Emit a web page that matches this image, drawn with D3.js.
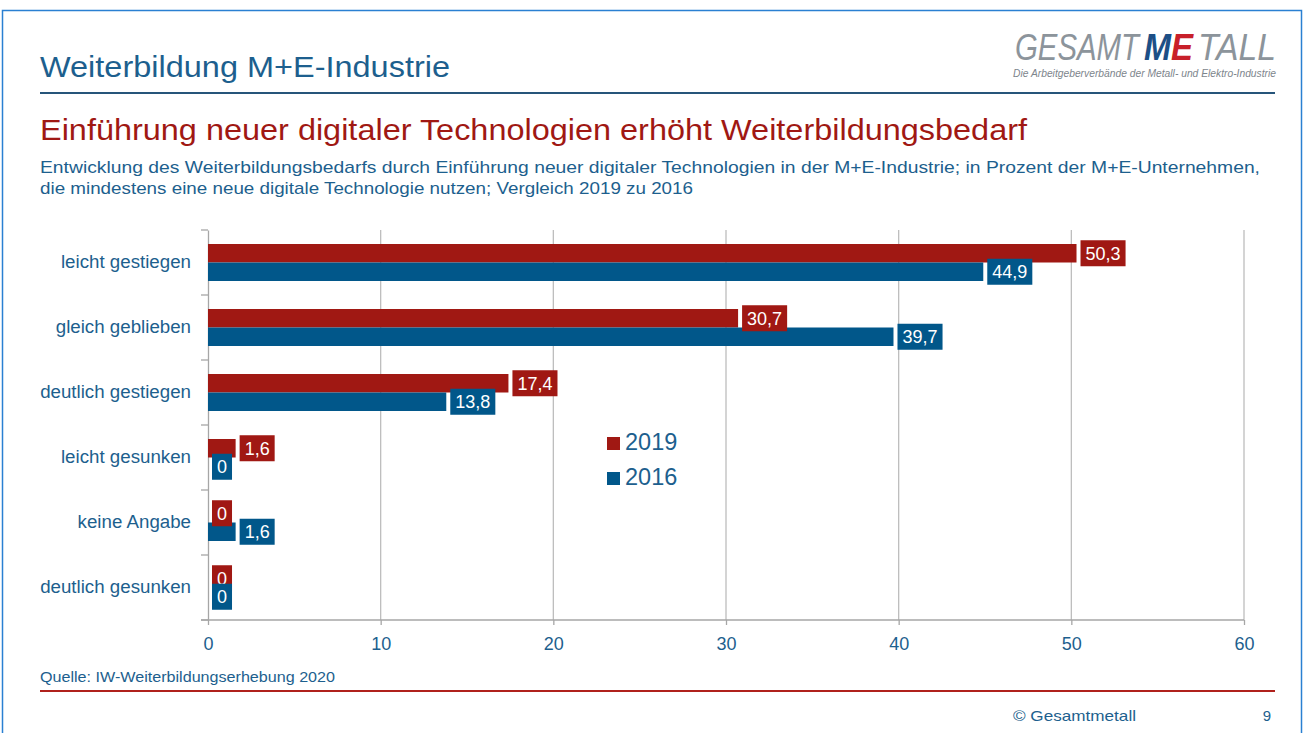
<!DOCTYPE html>
<html>
<head>
<meta charset="utf-8">
<script src="https://cdn.jsdelivr.net/npm/d3@7"></script>
<style>
  body { margin: 0; background: #fff; }
  svg { display: block; font-family: "Liberation Sans", Arial, sans-serif; }
</style>
</head>
<body>
<div id="container"></div>
<script>
/* DATA */
const categories = ["leicht gestiegen", "gleich geblieben", "deutlich gestiegen",
  "leicht gesunken", "keine Angabe", "deutlich gesunken"];
const series = ["2019", "2016"];
const values2019 = [50.3, 30.7, 17.4, 1.6, 0, 0];
const values2016 = [44.9, 39.7, 13.8, 0, 1.6, 0];
const xTicks = [0, 10, 20, 30, 40, 50, 60];

/* CONSTANTS */
const width = 1306, height = 733;
const margin = { top: 230, bottom: 113, left: 208, right: 62 };
const red = "#a01813", blue = "#01578a", textBlue = "#1d5f8e";

const svg = d3.select("#container").append("svg")
  .attr("width", width)
  .attr("height", height);

// helper: text stretched to a given width (the slide text is a bit wider than the fonts we have)
function stretchText(x, y, str, size, len, color, anchor) {
  return svg.append("text")
    .attr("x", x).attr("y", y)
    .attr("text-anchor", anchor || "start")
    .attr("fill", color)
    .attr("textLength", len)
    .attr("lengthAdjust", "spacingAndGlyphs")
    .style("font-size", size + "px")
    .text(str);
}

// slide frame
svg.append("rect")
  .attr("x", 2.5).attr("y", 10.5)
  .attr("width", 1299).attr("height", 740)
  .attr("fill", "none").attr("stroke", "#2a80d2").attr("stroke-width", 1.5);

// header
stretchText(40, 77, "Weiterbildung M+E-Industrie", 30, 410, textBlue);

svg.append("line")
  .attr("x1", 40).attr("x2", 1275).attr("y1", 93).attr("y2", 93)
  .attr("stroke", "#26557a").attr("stroke-width", 2);

// logo, split in pieces
stretchText(1015, 60, "GESAMT", 37, 124, "#8c949b").style("font-style", "italic");
stretchText(1144, 60, "M", 37, 27, "#1d4f86")
  .style("font-style", "italic").style("font-weight", "bold");
stretchText(1171, 60, "E", 37, 22, "#c8202a")
  .style("font-style", "italic").style("font-weight", "bold");
stretchText(1198, 60, "TALL", 37, 78, "#8c949b").style("font-style", "italic");

stretchText(1013, 77, "Die Arbeitgeberverbände der Metall- und Elektro-Industrie", 10, 263, "#7d858c")
  .style("font-style", "italic");

// titles
stretchText(40, 140, "Einführung neuer digitaler Technologien erhöht Weiterbildungsbedarf", 30, 987, red);
stretchText(40, 173, "Entwicklung des Weiterbildungsbedarfs durch Einführung neuer digitaler Technologien in der M+E-Industrie; in Prozent der M+E-Unternehmen,", 17, 1220, textBlue);
stretchText(40, 194, "die mindestens eine neue digitale Technologie nutzen; Vergleich 2019 zu 2016", 17, 653, textBlue);

/* SCALES */
const xScale = d3.scaleLinear()
  .domain([0, 60])
  .range([margin.left, width - margin.right]);

const yScale = d3.scaleBand()
  .domain(categories)
  .range([margin.top, height - margin.bottom]);

const bandPad = 14;
const barH = (yScale.bandwidth() - 2 * bandPad) / 2;

// gridlines
svg.append("g")
  .selectAll("line")
  .data(xTicks.slice(1))
  .join("line")
  .attr("x1", d => xScale(d)).attr("x2", d => xScale(d))
  .attr("y1", margin.top).attr("y2", height - margin.bottom)
  .attr("stroke", "#bdbdbd").attr("stroke-width", 1.3);

// y axis
const yAxis = d3.axisLeft(yScale).tickSize(0).tickPadding(17).tickSizeOuter(0);
const yG = svg.append("g")
  .attr("transform", `translate(${margin.left},0)`)
  .call(yAxis);
yG.select(".domain").attr("stroke", "#a6a6a6").attr("stroke-width", 1.3);
yG.selectAll("text").attr("fill", textBlue).style("font-size", "18px")
  .style("font-family", "Liberation Sans, Arial, sans-serif")
  .attr("transform", "translate(-17,0) scale(1.04,1) translate(17,0)");
// separators between categories
svg.append("g")
  .selectAll("line")
  .data(d3.range(categories.length + 1))
  .join("line")
  .attr("x1", margin.left - 7).attr("x2", margin.left)
  .attr("y1", i => margin.top + i * yScale.step())
  .attr("y2", i => margin.top + i * yScale.step())
  .attr("stroke", "#a6a6a6").attr("stroke-width", 1.3);

// x axis
const xAxis = d3.axisBottom(xScale).tickValues(xTicks).tickSize(5).tickPadding(12)
  .tickFormat(d3.format("d")).tickSizeOuter(0);
const xG = svg.append("g")
  .attr("transform", `translate(0,${height - margin.bottom})`)
  .call(xAxis);
xG.select(".domain").attr("stroke", "#a6a6a6").attr("stroke-width", 1.5)
  .attr("d", `M${margin.left - 7},0H${width - margin.right}`);
xG.selectAll(".tick line").attr("stroke", "#a6a6a6").attr("stroke-width", 1.3);
xG.selectAll("text").attr("fill", textBlue).style("font-size", "18px")
  .style("font-family", "Liberation Sans, Arial, sans-serif");

/* BARS */
const rows = categories.map((c, i) => ({ cat: c, v: [values2019[i], values2016[i]] }));
const colors = [red, blue];

series.forEach((s, si) => {
  const g = svg.append("g");
  const y = d => yScale(d.cat) + bandPad + si * barH;

  g.selectAll("rect.bar")
    .data(rows)
    .join("rect")
    .attr("class", "bar")
    .attr("x", xScale(0))
    .attr("y", y)
    .attr("width", d => xScale(d.v[si]) - xScale(0))
    .attr("height", barH)
    .attr("fill", colors[si]);
});

// value labels (drawn after all bars so they sit on top)
series.forEach((s, si) => {
  const g = svg.append("g");
  const fmt = d => String(d).replace(".", ",");
  rows.forEach(d => {
    const cy = yScale(d.cat) + bandPad + si * barH + barH / 2;
    const x0 = xScale(d.v[si]) + 4;
    const t = g.append("text")
      .attr("x", x0 + 5).attr("y", cy)
      .attr("dy", "0.36em")
      .attr("fill", "#fff")
      .style("font-size", "18px")
      .text(fmt(d.v[si]));
    const w = t.node().getComputedTextLength();
    g.insert("rect", "text")
      .attr("x", x0).attr("y", cy - 13)
      .attr("width", w + 10).attr("height", 26)
      .attr("fill", colors[si]);
  });
});

/* LEGEND */
const legend = svg.append("g").attr("transform", "translate(607,431)");
series.forEach((s, i) => {
  legend.append("rect")
    .attr("x", 0).attr("y", i * 35 + 6)
    .attr("width", 13).attr("height", 13)
    .attr("fill", colors[i]);
  legend.append("text")
    .attr("x", 18).attr("y", i * 35 + 19)
    .attr("fill", textBlue)
    .style("font-size", "23.5px")
    .text(s);
});

/* FOOTER */
stretchText(40, 682, "Quelle: IW-Weiterbildungserhebung 2020", 14, 295, textBlue);

svg.append("line")
  .attr("x1", 40).attr("x2", 1275).attr("y1", 691).attr("y2", 691)
  .attr("stroke", "#b0211c").attr("stroke-width", 2);

stretchText(1013, 721, "© Gesamtmetall", 15, 123, textBlue);

svg.append("text")
  .attr("x", 1271).attr("y", 721)
  .attr("text-anchor", "end")
  .attr("fill", textBlue).style("font-size", "15px")
  .text("9");
</script>
</body>
</html>
